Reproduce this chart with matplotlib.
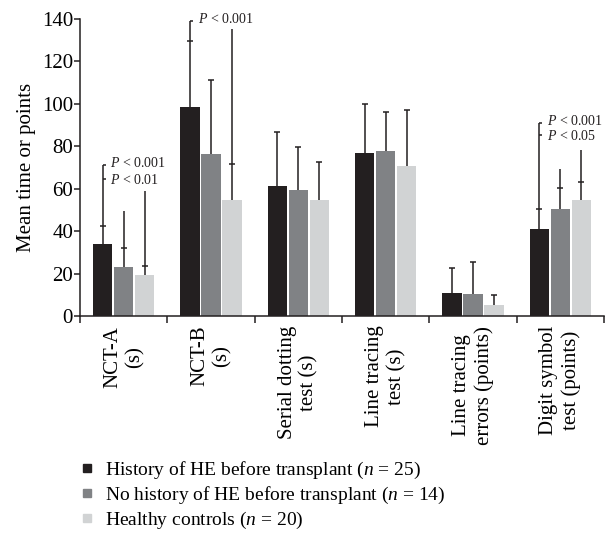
import matplotlib
matplotlib.use("Agg")
import matplotlib.pyplot as plt
from matplotlib.lines import Line2D
import numpy as np

# ---------------- data ----------------
categories = ["NCT-A\n(s)", "NCT-B\n(s)", "Serial dotting\ntest (s)",
              "Line tracing\ntest (s)", "Line tracing\nerrors (points)",
              "Digit symbol\ntest (points)"]
series_labels = ["History of HE before transplant ($n$ = 25)",
                 "No history of HE before transplant ($n$ = 14)",
                 "Healthy controls ($n$ = 20)"]
hist_he = [33.9, 98.4, 61.3, 76.9, 10.8, 41.0]
hist_he_err = [8.7, 31.1, 25.5, 22.9, 12.0, 9.4]
no_he = [23.1, 76.4, 59.4, 77.8, 10.4, 50.4]
no_he_err = [9.1, 34.9, 20.4, 18.2, 15.1, 10.1]
controls = [19.3, 54.7, 54.7, 70.7, 5.2, 54.7]
controls_err = [4.4, 17.0, 18.1, 26.3, 4.9, 8.3]
yticks = [0, 20, 40, 60, 80, 100, 120, 140]

# significance brackets: (group, series, top, [(tick_y, label), ...])
brackets = [
    (0, 0, 71.2, [(71.2, "$P$ < 0.001"), (64.4, "$P$ < 0.01")]),
    (1, 0, 139.2, [(139.2, "$P$ < 0.001")]),
    (5, 0, 91.0, [(91.0, "$P$ < 0.001"), (85.4, "$P$ < 0.05")]),
]
# extra comparison lines above error bars: (group, series, top)
comp_lines = [(0, 1, 49.6), (0, 2, 59.0), (1, 2, 135.2), (5, 1, 69.2), (5, 2, 78.4)]

colors = ["#231f20", "#808285", "#d1d3d4"]
dark = "#231f20"

plt.rcParams['font.family'] = ['Liberation Serif', 'DejaVu Serif']
plt.rcParams['mathtext.fontset'] = 'custom'
plt.rcParams['mathtext.rm'] = 'Liberation Serif'
plt.rcParams['mathtext.it'] = 'Liberation Serif:italic'

W, H = 611, 537
fig = plt.figure(figsize=(W / 100, H / 100), dpi=100)
ax = fig.add_axes([80 / W, 1 - 316 / H, 524 / W, 297 / H])

values = [hist_he, no_he, controls]
errs = [hist_he_err, no_he_err, controls_err]
x = np.arange(len(categories))
offset = 0.2405
width = 0.223
for s in range(3):
    ax.bar(x + (s - 1) * offset, values[s], width, color=colors[s], zorder=2)
    _, caps, _ = ax.errorbar(x + (s - 1) * offset, values[s],
                             yerr=[np.zeros(len(x)), errs[s]],
                             fmt='none', ecolor=dark, elinewidth=1.1, capsize=2.2,
                             capthick=1.1, zorder=3)
    caps[0].set_visible(False)

def top_of(g, s):
    return values[s][g] + errs[s][g]

for g, s, top in comp_lines:
    xx = g + (s - 1) * offset
    ax.plot([xx, xx], [top_of(g, s), top], color=dark, lw=1.1, zorder=3, solid_capstyle='butt')

for g, s, top, ticks in brackets:
    xx = g + (s - 1) * offset
    ax.plot([xx, xx], [top_of(g, s), top], color=dark, lw=1.1, zorder=3, solid_capstyle='butt')
    for k, (ty, lab) in enumerate(ticks):
        ax.plot([xx, xx + 0.035], [ty, ty], color=dark, lw=1.1, zorder=3, solid_capstyle='butt')
        dy = 1.2 if k == 0 else -0.8
        ax.annotate(lab, xy=(xx, ty), xytext=(5.5, dy), textcoords='offset points',
                    ha='left', va='center', fontsize=10, color=dark)

ax.set_xlim(-0.5, len(categories) - 0.5)
ax.set_ylim(0, 140)
ax.set_yticks(yticks)
ax.set_yticklabels([str(v) for v in yticks], fontsize=15)
ax.set_xticks(x)
ax.set_xticklabels(categories, rotation=90, fontsize=15, multialignment='center')
ax.set_xticks(np.arange(len(categories) + 1) - 0.5, minor=True)
ax.tick_params(axis='x', which='major', length=0, pad=7)
ax.tick_params(axis='x', which='minor', length=5, width=1.1, direction='out', color=dark)
ax.tick_params(axis='y', length=4, width=1.1, direction='out', pad=1, color=dark)
for side in ['top', 'right']:
    ax.spines[side].set_visible(False)
for side in ['left', 'bottom']:
    ax.spines[side].set_linewidth(1.1)
    ax.spines[side].set_color(dark)
ax.set_ylabel("Mean time or points", fontsize=15, labelpad=4)

handles = [Line2D([], [], marker='s', ls='none', color=c, markersize=5.5) for c in colors]
fig.legend(handles, series_labels, loc='upper left', bbox_to_anchor=(78 / W, 1 - 460 / H),
           frameon=False, fontsize=14, handlelength=0.95, handletextpad=0.45,
           borderpad=0, borderaxespad=0, labelspacing=0.2)

fig.savefig("out.png", dpi=100)
